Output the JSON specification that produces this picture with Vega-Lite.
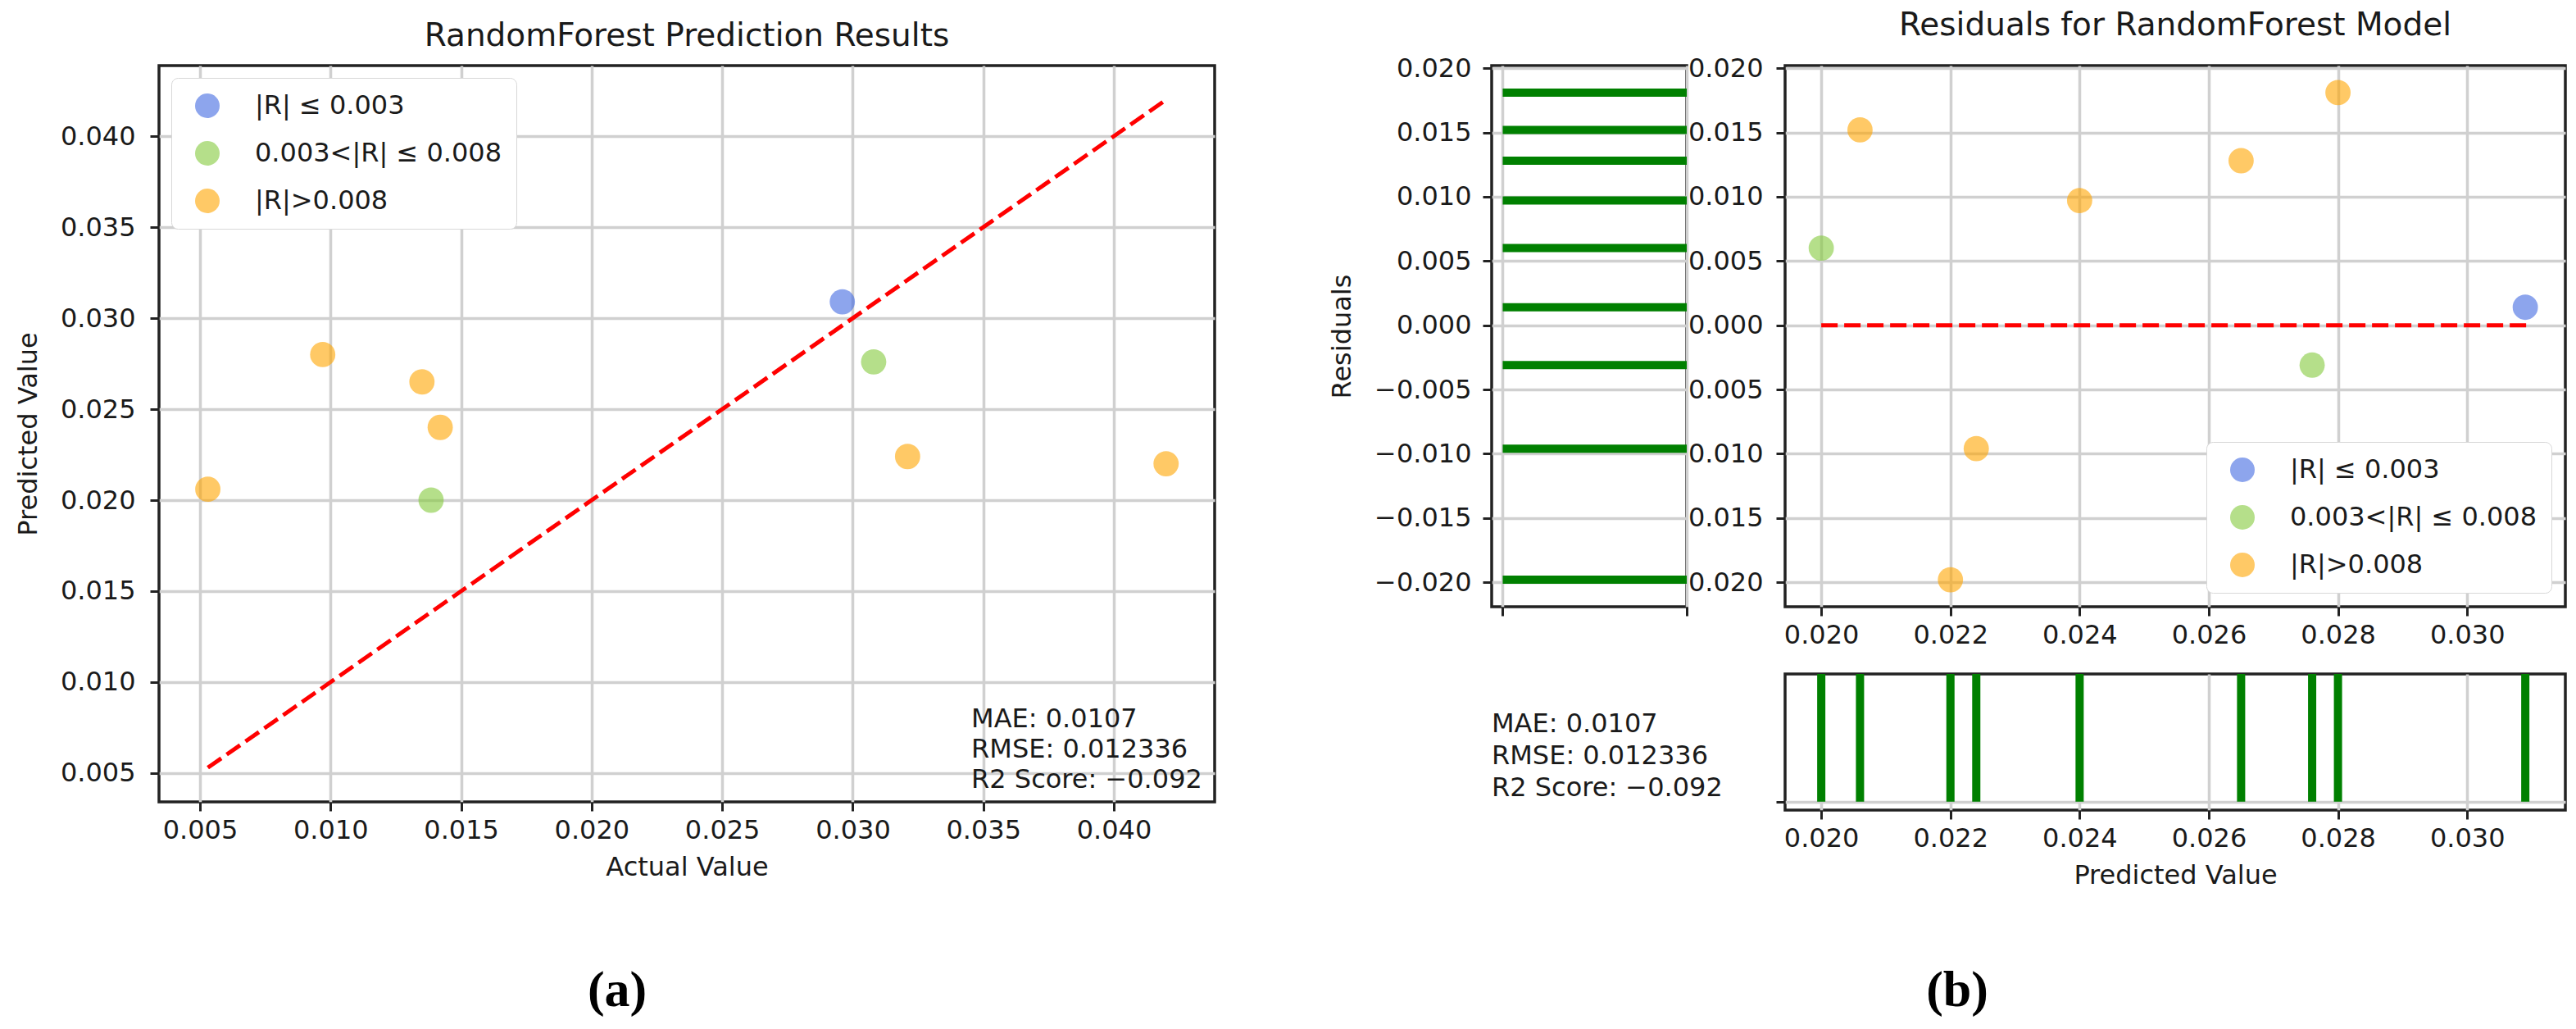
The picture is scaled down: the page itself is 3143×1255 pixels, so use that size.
{
  "$schema": "https://vega.github.io/schema/vega-lite/v6.json",
  "background": "white",
  "padding": {"left": 16, "top": 10, "right": 0, "bottom": 0},
  "datasets": {
    "pts": [
      {"actual": 0.0053, "predicted": 0.0206, "residual": 0.0152, "group": "|R|>0.008"},
      {"actual": 0.0097, "predicted": 0.0280, "residual": 0.0181, "group": "|R|>0.008"},
      {"actual": 0.0135, "predicted": 0.0265, "residual": 0.0128, "group": "|R|>0.008"},
      {"actual": 0.0142, "predicted": 0.0240, "residual": 0.0097, "group": "|R|>0.008"},
      {"actual": 0.01385, "predicted": 0.0200, "residual": 0.0060, "group": "0.003<|R| ≤ 0.008"},
      {"actual": 0.0296, "predicted": 0.0309, "residual": 0.0014, "group": "|R| ≤ 0.003"},
      {"actual": 0.0308, "predicted": 0.0276, "residual": -0.0031, "group": "0.003<|R| ≤ 0.008"},
      {"actual": 0.0321, "predicted": 0.0224, "residual": -0.0096, "group": "|R|>0.008"},
      {"actual": 0.0420, "predicted": 0.0220, "residual": -0.0198, "group": "|R|>0.008"}
    ],
    "diag": [{"v": 0.0053}, {"v": 0.0420}],
    "zero": [{"p": 0.0200, "r": 0}, {"p": 0.0310, "r": 0}],
    "stats": [{"t": "MAE: 0.0107\nRMSE: 0.012336\nR2 Score: −0.092"}],
    "capA": [{"c": "(a)"}],
    "capB": [{"c": "(b)"}]
  },
  "config": {
    "font": "DejaVu Sans",
    "view": {"stroke": "#222222", "strokeWidth": 3.5},
    "axis": {
      "domain": false, "grid": true, "gridColor": "#d0d0d0", "gridWidth": 3.5,
      "tickColor": "#222222", "tickWidth": 3, "tickSize": 11,
      "labelFont": "DejaVu Sans", "labelFontSize": 32, "labelColor": "#1a1a1a", "labelPadding": 8,
      "titleFont": "DejaVu Sans", "titleFontSize": 32, "titleFontWeight": "normal", "titleColor": "#1a1a1a", "titlePadding": 14
    },
    "axisY": {"labelPadding": 18, "titlePadding": 22},
    "title": {"font": "DejaVu Sans", "fontSize": 39, "fontWeight": "normal", "color": "#1a1a1a", "offset": 16},
    "legend": {
      "labelFont": "DejaVu Sans", "labelFontSize": 32, "labelColor": "#1a1a1a", "labelLimit": 0,
      "symbolSize": 900, "symbolType": "circle", "symbolStrokeWidth": 0,
      "rowPadding": 26, "labelOffset": 42, "padding": 18, "symbolOffset": 10,
      "strokeColor": "#d8d8d8", "fillColor": "white", "cornerRadius": 8, "offset": 15
    }
  },
  "resolve": {"scale": {"color": "independent", "x": "independent", "y": "independent"}, "legend": {"color": "independent"}},
  "spacing": 135,
  "hconcat": [
    {
      "width": 1288,
      "height": 898,
      "title": "RandomForest Prediction Results",
      "layer": [
        {
          "data": {"name": "pts"},
          "mark": {"type": "circle", "size": 950, "opacity": 0.6},
          "encoding": {
            "x": {"field": "actual", "type": "quantitative",
                  "scale": {"domain": [0.00343, 0.04386], "nice": false, "zero": false},
                  "axis": {"values": [0.005, 0.01, 0.015, 0.02, 0.025, 0.03, 0.035, 0.04], "format": ".3f", "title": "Actual Value"}},
            "y": {"field": "predicted", "type": "quantitative",
                  "scale": {"domain": [0.00342, 0.04388], "nice": false, "zero": false},
                  "axis": {"values": [0.005, 0.01, 0.015, 0.02, 0.025, 0.03, 0.035, 0.04], "format": ".3f", "title": "Predicted Value"}},
            "color": {"field": "group", "type": "nominal",
                      "scale": {"domain": ["|R| ≤ 0.003", "0.003<|R| ≤ 0.008", "|R|>0.008"], "range": ["#4169E1", "#84CA3C", "#FFA500"]},
                      "legend": {"title": null, "orient": "top-left"}}
          }
        },
        {
          "data": {"name": "diag"},
          "mark": {"type": "line", "color": "#ff0000", "strokeWidth": 5, "strokeDash": [20, 8]},
          "encoding": {
            "x": {"field": "v", "type": "quantitative"},
            "y": {"field": "v", "type": "quantitative"}
          }
        },
        {
          "data": {"name": "stats"},
          "mark": {"type": "text", "align": "left", "baseline": "alphabetic", "lineBreak": "\n", "fontSize": 32, "lineHeight": 37, "color": "#1a1a1a"},
          "encoding": {
            "text": {"field": "t"},
            "x": {"datum": 0.03454, "type": "quantitative"},
            "y": {"datum": 0.00752, "type": "quantitative"}
          }
        },
        {
          "data": {"name": "capA"},
          "mark": {"type": "text", "font": "Liberation Serif", "fontSize": 62, "fontWeight": "bold", "color": "#000000", "baseline": "middle", "align": "center"},
          "encoding": {
            "text": {"field": "c"},
            "x": {"datum": 0.02098, "type": "quantitative"},
            "y": {"datum": -0.00694, "type": "quantitative"}
          }
        }
      ]
    },
    {
      "bounds": "flush",
      "columns": 2,
      "spacing": {"row": 82, "column": 120},
      "resolve": {"scale": {"color": "independent", "x": "independent", "y": "independent"}, "legend": {"color": "independent"}},
      "concat": [
        {
          "width": 238,
          "height": 660,
          "data": {"name": "pts"},
          "mark": {"type": "rule", "color": "#008000", "strokeWidth": 10},
          "encoding": {
            "y": {"field": "residual", "type": "quantitative",
                  "scale": {"domain": [-0.0219, 0.0202], "nice": false, "zero": false},
                  "axis": {"values": [-0.02, -0.015, -0.01, -0.005, 0, 0.005, 0.01, 0.015, 0.02], "format": ".3f", "title": "Residuals", "labelPadding": 14}},
            "x": {"datum": 0, "type": "quantitative",
                  "scale": {"domain": [-0.06, 1], "nice": false, "zero": false},
                  "axis": {"values": [0, 1], "labels": false, "title": null}},
            "x2": {"datum": 1}
          }
        },
        {
          "width": 952,
          "height": 660,
          "title": "Residuals for RandomForest Model",
          "layer": [
            {
              "data": {"name": "pts"},
              "mark": {"type": "circle", "size": 950, "opacity": 0.6},
              "encoding": {
                "x": {"field": "predicted", "type": "quantitative",
                      "scale": {"domain": [0.01944, 0.03152], "nice": false, "zero": false},
                      "axis": {"values": [0.02, 0.022, 0.024, 0.026, 0.028, 0.03], "format": ".3f", "title": null}},
                "y": {"field": "residual", "type": "quantitative",
                      "scale": {"domain": [-0.0219, 0.0202], "nice": false, "zero": false},
                      "axis": {"values": [-0.02, -0.015, -0.01, -0.005, 0, 0.005, 0.01, 0.015, 0.02], "labelExpr": "format(abs(datum.value), '.3f')", "title": null, "labelPadding": 16}},
                "color": {"field": "group", "type": "nominal",
                          "scale": {"domain": ["|R| ≤ 0.003", "0.003<|R| ≤ 0.008", "|R|>0.008"], "range": ["#4169E1", "#84CA3C", "#FFA500"]},
                          "legend": {"title": null, "orient": "bottom-right", "offset": 17}}
              }
            },
            {
              "data": {"name": "zero"},
              "mark": {"type": "line", "color": "#ff0000", "strokeWidth": 5, "strokeDash": [20, 8]},
              "encoding": {
                "x": {"field": "p", "type": "quantitative"},
                "y": {"field": "r", "type": "quantitative"}
              }
            }
          ]
        },
        {
          "width": 238,
          "height": 166,
          "view": {"stroke": null},
          "data": {"name": "stats"},
          "mark": {"type": "text", "align": "left", "baseline": "alphabetic", "lineBreak": "\n", "fontSize": 32, "lineHeight": 39, "color": "#1a1a1a"},
          "encoding": {
            "text": {"field": "t"},
            "x": {"datum": 0, "type": "quantitative", "scale": {"domain": [0, 1], "nice": false}, "axis": null},
            "y": {"datum": 0.572, "type": "quantitative", "scale": {"domain": [0, 1], "nice": false}, "axis": null}
          }
        },
        {
          "width": 952,
          "height": 166,
          "layer": [
            {
              "data": {"name": "pts"},
              "mark": {"type": "rule", "color": "#008000", "strokeWidth": 10},
              "encoding": {
                "x": {"field": "predicted", "type": "quantitative",
                      "scale": {"domain": [0.01944, 0.03152], "nice": false, "zero": false},
                      "axis": {"values": [0.02, 0.022, 0.024, 0.026, 0.028, 0.03], "format": ".3f", "title": "Predicted Value"}},
                "y": {"datum": 0, "type": "quantitative",
                      "scale": {"domain": [-0.065, 1], "nice": false, "zero": false},
                      "axis": {"values": [0], "labels": false, "title": null}},
                "y2": {"datum": 1}
              }
            },
            {
              "data": {"name": "capB"},
              "mark": {"type": "text", "font": "Liberation Serif", "fontSize": 62, "fontWeight": "bold", "color": "#000000", "baseline": "middle", "align": "center"},
              "encoding": {
                "text": {"field": "c"},
                "x": {"datum": 0.022105, "type": "quantitative"},
                "y": {"datum": -1.476, "type": "quantitative"}
              }
            }
          ]
        }
      ]
    }
  ]
}
